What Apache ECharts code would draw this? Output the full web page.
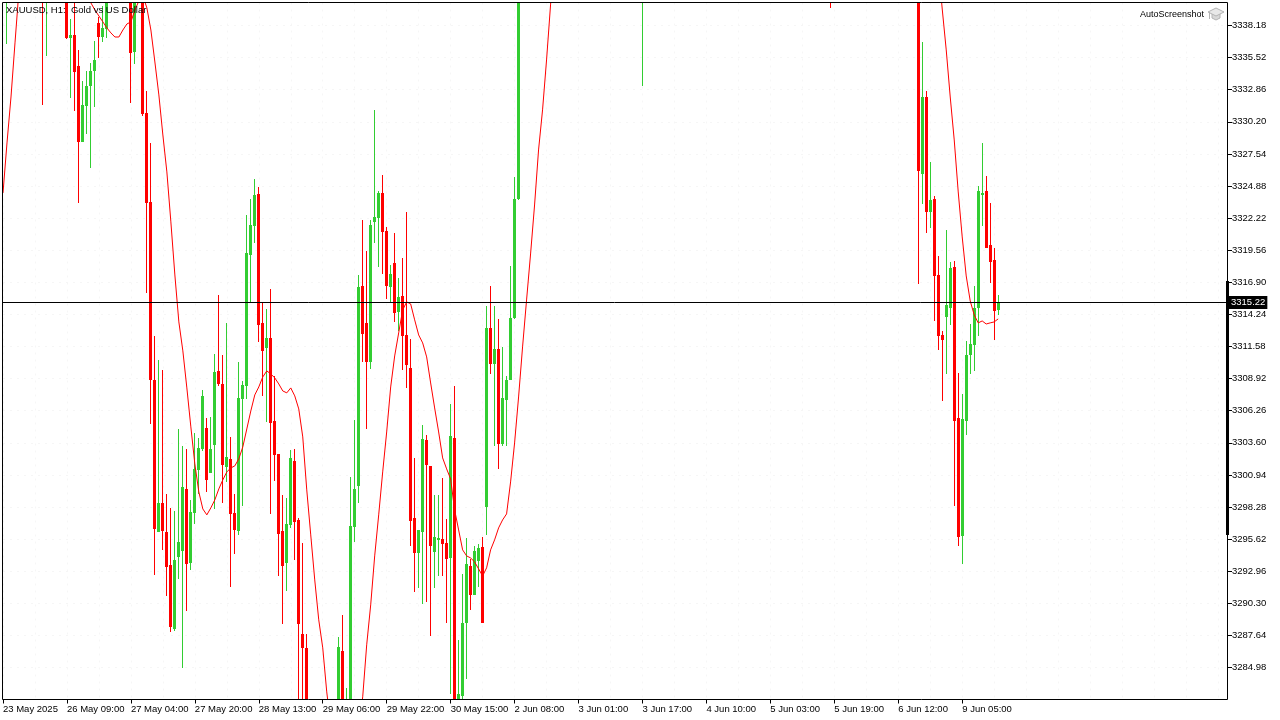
<!DOCTYPE html>
<html><head><meta charset="utf-8"><style>html,body{margin:0;padding:0;background:#fff}#c{width:1280px;height:720px}</style>
<script src="https://cdn.jsdelivr.net/npm/echarts@6/dist/echarts.min.js"></script></head><body><div id="c"></div>
<script>
const gap = n => Array(n).fill(null);
const title = 'XAUUSD, H1:  Gold vs US Dollar';
const brand = 'AutoScreenshot';
const lastPrice = 3315.22;
const timeLabels = ['23 May 2025','26 May 09:00','27 May 04:00','27 May 20:00','28 May 13:00','29 May 06:00','29 May 22:00','30 May 15:00','2 Jun 08:00','3 Jun 01:00','3 Jun 17:00','4 Jun 10:00','5 Jun 03:00','5 Jun 19:00','6 Jun 12:00','9 Jun 05:00'];
const priceTicks = [3284.98,3287.64,3290.30,3292.96,3295.62,3298.28,3300.94,3303.60,3306.26,3308.92,3311.58,3314.24,3316.90,3319.56,3322.22,3324.88,3327.54,3330.20,3332.86,3335.52,3338.18];

const opens = [null,3340.63,...gap(8),3342.80,3340.50,...gap(4),3341.6,3337.15,3337.40,3334.83,3328.53,3331.52,3333.17,3334.42,3338.39,3337.23,3337.90,...gap(5),3340.9,3335.99,null,3341.0,3330.94,3323.56,3308.81,3296.24,3298.62,3296.22,3293.44,3288.20,3294.15,3294.64,3299.78,3293.65,3297.79,3301.36,3303.10,3304.84,3301.06,3303.43,3309.56,3308.48,3301.56,3302.27,3297.79,3296.33,3307.24,3308.34,3319.13,3321.59,3324.23,3313.54,3311.46,3312.29,3305.42,3302.68,3296.30,3293.65,3296.80,3302.10,3297.21,3287.77,3286.63,...gap(7),3281.8,3286.36,3281.0,3281.9,3296.66,3300.05,3316.60,3313.54,3310.30,3321.86,3322.24,3324.31,3321.16,3316.52,3318.51,3314.45,3315.77,3312.54,3309.81,3297.38,3294.50,3296.24,3303.84,3301.69,3294.59,3295.56,3295.64,3295.31,3294.06,3304.01,3281.8,3282.63,3288.64,3293.40,3290.95,3293.82,3294.98,3298.29,3313.08,3310.14,3311.38,3303.51,3307.16,3308.81,3313.95,3323.81,...gap(30),3340.7,...gap(46),3341.2,...gap(21),3341.6,3325.91,3332.26,3322.76,3323.81,3317.51,3312.54,3314.06,3314.78,3318.18,3305.66,3295.91,3305.44,3310.88,3311.71,3314.78,3324.14,3324.47,3320.00,3318.76,3314.61];
const closes = [null,3341.96,...gap(8),3340.63,3341.40,...gap(4),3337.15,3337.40,3334.33,3328.53,3331.60,3333.17,3334.42,3335.33,3337.23,3337.98,3340.63,...gap(5),3335.91,3340.8,null,3330.85,3323.48,3308.81,3296.47,3298.62,3296.33,3293.32,3288.35,3293.86,3295.35,3299.95,3293.58,3297.88,3301.44,3303.18,3307.49,3300.53,3303.10,3309.48,3308.48,3301.77,3302.43,3297.71,3296.38,3307.32,3308.40,3319.34,3321.66,3324.14,3313.37,3311.17,3312.29,3305.21,3302.63,3296.05,3293.40,3296.88,3302.35,3297.00,3288.62,3286.61,3281.9,...gap(7),3286.69,3281.9,3281.9,3296.72,3299.78,3316.48,3312.58,3310.30,3321.66,3322.32,3324.31,3321.08,3316.60,3317.60,3314.32,3315.65,3312.46,3310.06,3297.13,3294.50,3296.38,3303.92,3301.73,3295.01,3295.80,3295.72,3295.22,3293.98,3304.17,3281.8,3282.80,3288.68,3293.57,3290.95,3294.64,3294.89,3288.68,3313.08,3310.14,3311.38,3303.51,3307.32,3308.81,3313.95,3323.81,3341.4,...gap(30),3341.5,...gap(46),3340.7,...gap(21),3326.13,3332.26,3322.76,3323.73,3317.46,3312.46,3312.13,3315.03,3318.09,3305.44,3295.83,3305.58,3310.88,3311.80,3314.78,3324.47,3324.31,3319.75,3318.59,3314.53,3315.22];
const lows = [null,3336.65,...gap(8),3331.60,3335.66,...gap(4),3337.07,3332.18,3331.10,3323.48,3328.53,3329.20,3326.38,3331.43,3335.49,3336.82,3337.15,...gap(5),3331.77,3335.00,null,3330.69,3316.02,3305.20,3292.68,3296.22,3294.75,3290.87,3287.89,3288.03,3292.32,3284.90,3289.67,3293.07,3296.88,3299.33,3302.96,3299.53,3301.06,3298.12,3308.32,3298.62,3300.39,3291.66,3294.42,3295.97,3298.40,3307.24,3315.19,3320.19,3311.96,3307.49,3305.29,3297.71,3300.44,3292.60,3288.62,3291.33,3296.57,3293.90,3281.5,3281.4,3281.2,...gap(7),3281.2,3281.3,3280.6,3281.4,3295.39,3298.65,3310.30,3304.75,3309.72,3320.12,3318.13,3317.60,3315.52,3315.19,3313.62,3312.83,3309.64,3308.15,3295.06,3291.25,3291.58,3290.25,3290.42,3287.56,3291.58,3292.57,3292.57,3288.68,3282.80,3281.4,3281.5,3282.3,3284.04,3289.76,3290.95,3291.66,3288.68,3295.93,3309.34,3303.34,3301.44,3303.34,3303.34,3308.81,3313.87,3323.73,...gap(30),3333.20,...gap(46),3339.64,...gap(21),3316.77,3323.40,3321.02,3321.41,3313.70,3311.30,3307.10,3309.31,3313.37,3298.40,3295.08,3293.57,3304.26,3309.31,3309.58,3312.46,3321.57,3319.75,3316.85,3312.13,3314.20];
const highs = [null,3342.5,...gap(8),3343.2,3341.9,...gap(4),3342.2,3338.73,3341.0,3336.16,3333.59,3334.42,3335.08,3336.90,3338.89,3339.80,3341.5,...gap(5),3341.5,3341.3,null,3341.6,3332.76,3328.45,3312.46,3310.47,3309.64,3299.33,3298.21,3297.98,3304.75,3303.34,3303.10,3298.87,3304.42,3304.01,3307.98,3305.66,3305.75,3310.97,3315.86,3310.88,3313.54,3304.09,3299.33,3310.30,3308.73,3322.44,3323.84,3325.47,3324.81,3315.19,3314.65,3316.35,3309.14,3302.68,3299.28,3299.04,3303.01,3303.10,3297.38,3295.26,3287.77,...gap(7),3287.52,3289.34,3283.29,3300.78,3305.50,3317.51,3322.03,3319.50,3322.03,3331.22,3324.47,3325.80,3321.49,3318.34,3320.99,3317.27,3318.92,3322.73,3312.21,3302.35,3296.38,3305.08,3304.26,3301.69,3299.28,3299.28,3300.69,3297.30,3306.82,3308.32,3287.30,3292.70,3295.72,3293.98,3295.06,3295.22,3295.80,3314.94,3316.60,3314.94,3313.87,3311.55,3309.14,3318.26,3325.63,3341.9,...gap(30),3342.0,...gap(46),3341.7,...gap(21),3342.0,3336.82,3332.76,3326.88,3324.06,3319.09,3312.87,3321.24,3318.59,3318.67,3309.39,3307.65,3312.04,3313.45,3316.60,3324.89,3328.45,3325.72,3323.48,3319.75,3315.86];
const movingAverage = [3324.31,3328.45,3332.26,3336.74,3341.13,...gap(16),3340.63,3340.05,3339.47,3338.97,3338.48,3337.98,3337.57,3337.23,3337.23,3337.81,3338.31,3338.48,3339.47,3340.22,3340.63,3339.64,3337.81,3335.16,3332.43,3329.11,3326.05,3321.91,3317.51,3313.62,3311.22,3308.15,3304.92,3301.85,3299.53,3298.12,3297.63,3298.21,3298.87,3299.78,3300.53,3301.19,3301.52,3301.69,3302.27,3303.26,3304.75,3306.24,3307.57,3308.23,3309.06,3309.56,3309.31,3308.98,3308.48,3307.90,3307.74,3308.15,3307.49,3306.41,3304.09,3299.70,3295.97,3292.24,3288.93,3286.61,3282.96,3280.23,...gap(6),3279.81,3282.55,3286.86,3290.17,3294.23,3297.63,3301.19,3304.50,3308.23,3310.80,3312.71,3314.61,3315.28,3315.11,3313.79,3312.54,3311.88,3310.72,3308.56,3306.49,3304.50,3302.35,3301.44,3300.61,3298.04,3296.38,3294.73,3294.23,3294.06,3293.73,3293.15,3292.57,3293.24,3294.73,3295.56,3296.55,3297.21,3297.71,3300.36,3303.59,3307.40,3311.55,3315.44,3319.25,3323.31,3327.87,3331.19,3335.33,3339.89,3344.44,...gap(95),3343.20,3339.55,3336.16,3332.26,3328.70,3324.39,3320.66,3317.43,3315.36,3314.20,3313.54,3313.70,3313.45,3313.54,3313.62,3313.87];

const BARS = 307, PER_LABEL = 16;
const cats = Array.from({length: BARS}, (_, i) => (i % PER_LABEL === 0 && timeLabels[i / PER_LABEL]) || '');
const candles = opens.map((o, i) => o == null ? null : [i, o, closes[i], lows[i], highs[i]]).filter(Boolean);
const FONT = 'Liberation Sans';
const UP = '#32CD32', DOWN = '#FF0000';
const hasLabel = (i, v) => v !== '';

function renderCandle(params, api) {
  const i = api.value(0), o = api.value(1), c = api.value(2), l = api.value(3), h = api.value(4);
  const px = Math.floor(api.coord([i, o])[0]);
  const row = v => Math.round(api.coord([i, v])[1]);
  const fill = c >= o ? UP : DOWN;
  const bTop = row(Math.max(o, c)), bBot = row(Math.min(o, c));
  return {type: 'group', children: [
    {type: 'rect', shape: {x: px, y: row(h), width: 1, height: Math.max(1, row(l) - row(h))}, style: {fill}},
    {type: 'rect', shape: {x: px - 1, y: bTop, width: 3, height: Math.max(1, bBot - bTop)}, style: {fill}}
  ]};
}

const chart = echarts.init(document.getElementById('c'), null, {renderer: 'canvas'});
chart.setOption({
  animation: false,
  backgroundColor: '#fff',
  title: {text: title, left: 6, top: 5, padding: 0, textStyle: {fontFamily: FONT, fontSize: 9.5, fontWeight: 'normal', color: '#000'}},
  grid: {left: 2, top: 2.5, width: 1224, height: 697, containLabel: false},
  xAxis: {
    type: 'category', data: cats, boundaryGap: false,
    axisLine: {show: false},
    axisTick: {show: true, interval: hasLabel, length: 4, lineStyle: {color: '#000', width: 1}},
    axisLabel: {interval: hasLabel, align: 'left', margin: 5, padding: [0,0,0,0], color: '#000', fontFamily: FONT, fontSize: 9.5, hideOverlap: false, showMinLabel: true},
    splitLine: {show: true, interval: i => i % 8 === 0, lineStyle: {color: '#f6f6f6', type: [2, 5], width: 1}}
  },
  yAxis: {
    type: 'value', position: 'right', offset: 2, min: 3282.33, max: 3340.09, scale: true,
    axisLine: {show: false},
    axisTick: {show: true, length: 4, customValues: priceTicks, lineStyle: {color: '#000', width: 1}},
    axisLabel: {customValues: priceTicks, formatter: v => v.toFixed(2), margin: 4, color: '#000', fontFamily: FONT, fontSize: 9.5, align: 'left'},
    splitLine: {show: true, customValues: priceTicks, lineStyle: {color: '#f6f6f6', type: [2, 5], width: 1}}
  },
  series: [
    {type: 'custom', name: 'XAUUSD', data: candles, renderItem: renderCandle, clip: true, silent: true,
     encode: {x: 0, y: [1, 2, 3, 4]}},
    {type: 'line', name: 'MA', data: movingAverage, showSymbol: false, symbol: 'none', connectNulls: false, smooth: false,
     lineStyle: {color: '#FF0000', width: 1}, clip: true,
     markLine: {silent: true, symbol: 'none', animation: false, precision: 2,
       lineStyle: {color: '#000', width: 1, type: 'solid'},
       label: {position: 'end', formatter: () => lastPrice.toFixed(2), backgroundColor: '#000', color: '#fff', fontFamily: FONT, fontSize: 9.5, padding: [2, 2, 1, 2], distance: 3},
       data: [{yAxis: lastPrice}]}}
  ],
  graphic: [
    {type: 'rect', z: 100, silent: true, shape: {x: 2.5, y: 2.5, width: 1225, height: 697}, style: {fill: 'none', stroke: '#000', lineWidth: 1}},
    {type: 'rect', z: 101, silent: true, shape: {x: 1226, y: 281, width: 3, height: 254}, style: {fill: '#000'}},
    {type: 'text', z: 101, silent: true, style: {x: 1204, y: 15, text: brand, align: 'right', verticalAlign: 'middle', fill: '#000', font: '9px "Liberation Sans"'}},
    {type: 'polygon', z: 101, silent: true, shape: {points: [[1212,13],[1220,13],[1220,18],[1216,20],[1212,18]]}, style: {fill: '#d8d8d8', stroke: '#b4b4b4', lineWidth: 1}},
    {type: 'polygon', z: 102, silent: true, shape: {points: [[1216,8],[1224,12],[1216,16],[1208,12]]}, style: {fill: '#e8e8e8', stroke: '#b4b4b4', lineWidth: 1}},
    {type: 'line', z: 102, silent: true, shape: {x1: 1209.5, y1: 12, x2: 1209.5, y2: 19}, style: {stroke: '#b4b4b4', lineWidth: 1}}
  ]
});
</script></body></html>
